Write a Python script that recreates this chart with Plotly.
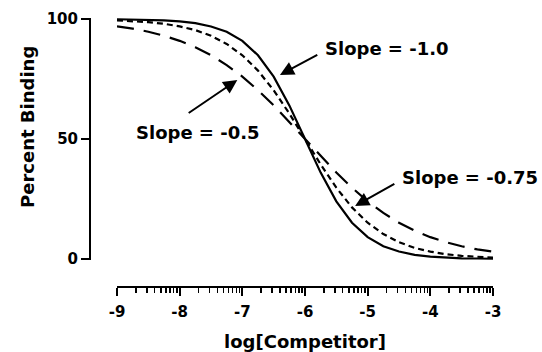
import plotly.graph_objects as go
import numpy as np

# Data (log[Competitor] vs Percent Binding)
log_competitor = [-9.0, -8.75, -8.5, -8.25, -8.0, -7.75, -7.5, -7.25, -7.0, -6.75, -6.5, -6.25,
                  -6.0, -5.75, -5.5, -5.25, -5.0, -4.75, -4.5, -4.25, -4.0, -3.75, -3.5, -3.25, -3.0]
binding_slope_1_0 = [99.9, 99.8, 99.7, 99.4, 99.0, 98.3, 96.9, 94.7, 90.9, 84.9, 76.0, 64.0,
                     50.0, 36.0, 24.0, 15.1, 9.1, 5.3, 3.1, 1.7, 1.0, 0.6, 0.3, 0.2, 0.1]
binding_slope_0_75 = [99.4, 99.1, 98.7, 98.0, 96.9, 95.4, 93.0, 89.6, 84.9, 78.5, 70.3, 60.6,
                      50.0, 39.4, 29.7, 21.5, 15.1, 10.4, 7.0, 4.6, 3.1, 2.0, 1.3, 0.9, 0.6]
binding_slope_0_5 = [96.9, 96.0, 94.7, 93.0, 90.9, 88.2, 84.9, 80.8, 76.0, 70.3, 64.0, 57.1,
                     50.0, 42.9, 36.0, 29.7, 24.0, 19.2, 15.1, 11.8, 9.1, 7.0, 5.3, 4.0, 3.1]

x_tick_vals = [-9, -8, -7, -6, -5, -4, -3]
x_tick_text = ["-9", "-8", "-7", "-6", "-5", "-4", "-3"]
y_tick_vals = [0, 50, 100]
y_tick_text = ["0", "50", "100"]

labels = ["Slope = -1.0", "Slope = -0.5", "Slope = -0.75"]

minor_vals = [d + np.log10(k) for d in range(-9, -3) for k in range(2, 10)]

FONT = "DejaVu Sans"
BLACK = "#000000"

W, H = 542, 352
ml, mr, mt, mb = 90, 49, 10, 65
pw, ph = W - ml - mr, H - mt - mb

fig = go.Figure()
fig.add_trace(go.Scatter(x=log_competitor, y=binding_slope_1_0, mode="lines",
                         line=dict(color=BLACK, width=2.2), showlegend=False))
fig.add_trace(go.Scatter(x=log_competitor, y=binding_slope_0_75, mode="lines",
                         line=dict(color=BLACK, width=2.2, dash="6px,4px"), showlegend=False))
fig.add_trace(go.Scatter(x=log_competitor, y=binding_slope_0_5, mode="lines",
                         line=dict(color=BLACK, width=2.2, dash="17px,10px"), showlegend=False))

# text labels
text_pos = [(-4.69, 87.9), (-7.71, 52.9), (-3.37, 33.8)]
for t, (tx, ty) in zip(labels, text_pos):
    fig.add_annotation(x=tx, y=ty, xref="x", yref="y", text="<b>" + t + "</b>", showarrow=False,
                       font=dict(family=FONT, size=18, color=BLACK))

# arrows (head, tail)
arrows = [((-6.40, 76.7), (-5.78, 85.4)),
          ((-7.08, 74.6), (-7.88, 60.4)),
          ((-5.20, 22.1), (-4.55, 31.7))]
for (hx, hy), (tx, ty) in arrows:
    fig.add_annotation(x=hx, y=hy, ax=tx, ay=ty, xref="x", yref="y", axref="x", ayref="y",
                       text="", showarrow=True, arrowhead=2, arrowsize=1.4, arrowwidth=2,
                       arrowcolor=BLACK, standoff=0, startstandoff=0)

# y axis title as annotation (paper coords)
fig.add_annotation(x=(27 - ml) / pw, y=(H - mb - 127) / ph, xref="paper", yref="paper",
                   xanchor="center", yanchor="middle",
                   text="<b>Percent Binding</b>", showarrow=False, textangle=-90,
                   font=dict(family=FONT, size=18, color=BLACK))

fig.update_layout(
    width=W, height=H,
    margin=dict(l=ml, r=mr, t=mt, b=mb, pad=0, autoexpand=False),
    paper_bgcolor="white", plot_bgcolor="white",
    font=dict(family=FONT, color=BLACK),
    hovermode=False,
    xaxis=dict(
        range=[-9, -3], domain=[(117 - ml) / pw, 1], anchor="free", position=0,
        automargin=False,
        showgrid=False, zeroline=False, showline=True, linecolor=BLACK, linewidth=2,
        ticks="outside", ticklen=8, tickwidth=2, tickcolor=BLACK,
        tickmode="array", tickvals=x_tick_vals, ticktext=["<b>%s</b>" % s for s in x_tick_text],
        tickfont=dict(family=FONT, size=15, color=BLACK), ticklabelstandoff=3,
        minor=dict(tickmode="array", tickvals=minor_vals, ticks="outside", ticklen=5,
                   tickwidth=1.5, tickcolor=BLACK, showgrid=False),
        title=dict(text="<b>log[Competitor]</b>", font=dict(family=FONT, size=18, color=BLACK),
                   standoff=15),
    ),
    yaxis=dict(
        range=[-0.5, 100.5],
        domain=[(H - mb - 260.2) / ph, (H - mb - 17.8) / ph],
        anchor="free", position=0, automargin=False,
        showgrid=False, zeroline=False, showline=True, linecolor=BLACK, linewidth=2,
        ticks="outside", ticklen=8, tickwidth=2, tickcolor=BLACK,
        tickmode="array", tickvals=y_tick_vals, ticktext=["<b>%s</b>" % s for s in y_tick_text],
        tickfont=dict(family=FONT, size=15, color=BLACK),
    ),
)

fig.write_html("out.html", config={"displayModeBar": False, "staticPlot": True},
               post_script="document.body.style.margin='0px';document.body.style.overflow='hidden';")
